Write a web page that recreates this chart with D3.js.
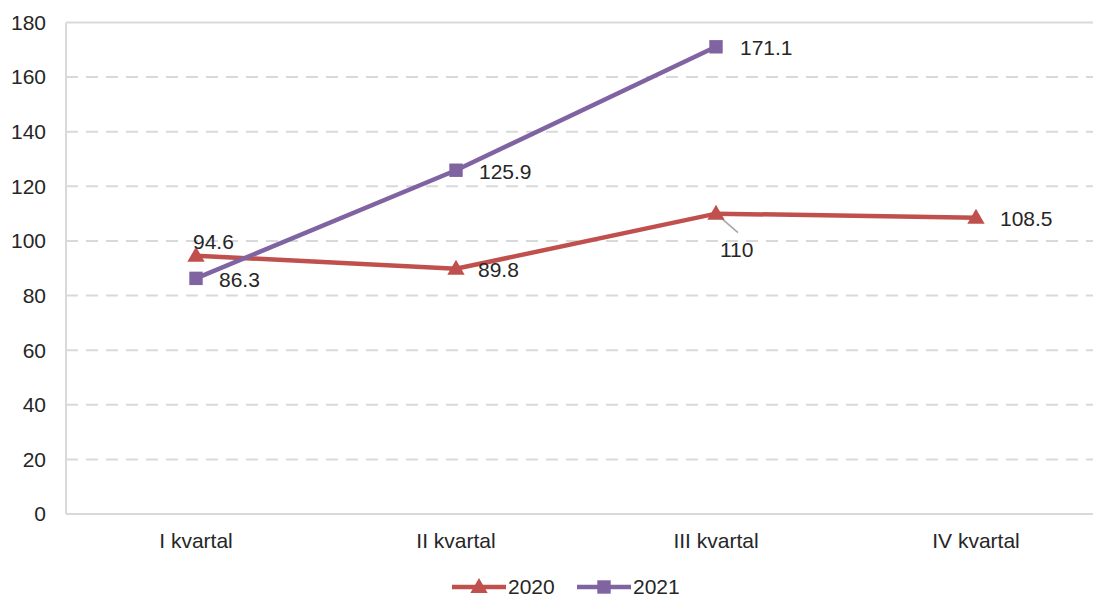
<!DOCTYPE html>
<html>
<head>
<meta charset="utf-8">
<script src="https://cdn.jsdelivr.net/npm/d3@7"></script>
<style>
  body { margin: 0; background: #fff; }
  text { font-family: "Liberation Sans", Arial, sans-serif; fill: #262626; }
</style>
</head>
<body>
<svg id="chart" width="1093" height="597"></svg>
<script>
var categories = ["I kvartal", "II kvartal", "III kvartal", "IV kvartal"];
var years = ["2020", "2021"];
var values2020 = [94.6, 89.8, 110, 108.5];
var values2021 = [86.3, 125.9, 171.1];
var yTicks = [0, 20, 40, 60, 80, 100, 120, 140, 160, 180];
var colors = { "2020": "#c0504d", "2021": "#8064a2" };

// label offsets relative to point (dx, dy)
var labelPos2020 = [[-3, -14], [22, 1], [4, 36], [24, 1]];
var labelPos2021 = [[23, 1], [23, 1], [24, 1]];

var fs = 21;

var svg = d3.select('#chart');
var x = d3.scaleBand().domain(categories).range([66, 1106]);
var y = d3.scaleLinear().domain([0, 180]).range([514, 22.5]);
var cx = function (d, i) { return x(categories[i]) + x.bandwidth() / 2; };

// grid
svg.append('g')
    .selectAll('line')
    .data(yTicks.filter(function (t) { return t > 0; }))
    .enter()
    .append('line')
    .attr('x1', 66).attr('x2', 1093)
    .attr('y1', function (d) { return y(d); })
    .attr('y2', function (d) { return y(d); })
    .attr('stroke', '#d9d9d9')
    .attr('stroke-width', 2)
    .attr('stroke-dasharray', function (d) { return d === 180 ? null : '12,8'; });

// axes
svg.append('line').attr('x1', 66).attr('x2', 66).attr('y1', y(180)).attr('y2', y(0))
    .attr('stroke', '#d9d9d9').attr('stroke-width', 2);
svg.append('line').attr('x1', 66).attr('x2', 1093).attr('y1', y(0)).attr('y2', y(0))
    .attr('stroke', '#d9d9d9').attr('stroke-width', 2);

svg.append('g')
    .selectAll('text')
    .data(yTicks)
    .enter()
    .append('text')
    .attr('x', 46)
    .attr('y', function (d) { return y(d); })
    .attr('dy', '0.35em')
    .attr('text-anchor', 'end')
    .attr('font-size', fs)
    .text(function (d) { return d; });

svg.append('g')
    .selectAll('text')
    .data(categories)
    .enter()
    .append('text')
    .attr('x', function (d) { return x(d) + x.bandwidth() / 2; })
    .attr('y', 548)
    .attr('text-anchor', 'middle')
    .attr('font-size', fs)
    .text(function (d) { return d; });

var line = d3.line()
    .x(function (d, i) { return cx(d, i); })
    .y(function (d) { return y(d); });

var triangle = d3.symbol().type(d3.symbolTriangle).size(130);
var square = d3.symbol().type(d3.symbolSquare).size(180);

// 2020
svg.append('path')
    .datum(values2020)
    .attr('d', line)
    .attr('fill', 'none')
    .attr('stroke', colors["2020"])
    .attr('stroke-width', 4.5);

// leader line for 110
svg.append('line')
    .attr('x1', cx(110, 2)).attr('y1', y(110))
    .attr('x2', cx(110, 2) + 22).attr('y2', y(110) + 19)
    .attr('stroke', '#a6a6a6').attr('stroke-width', 1.5);

svg.append('g')
    .selectAll('path')
    .data(values2020)
    .enter()
    .append('path')
    .attr('d', triangle)
    .attr('transform', function (d, i) { return 'translate(' + cx(d, i) + ',' + (y(d) + 1) + ')'; })
    .attr('fill', colors["2020"]);

// 2021
svg.append('path')
    .datum(values2021)
    .attr('d', line)
    .attr('fill', 'none')
    .attr('stroke', colors["2021"])
    .attr('stroke-width', 4.5);

svg.append('g')
    .selectAll('path')
    .data(values2021)
    .enter()
    .append('path')
    .attr('d', square)
    .attr('transform', function (d, i) { return 'translate(' + cx(d, i) + ',' + y(d) + ')'; })
    .attr('fill', colors["2021"]);

// data labels
svg.append('g')
    .selectAll('text')
    .data(values2020)
    .enter()
    .append('text')
    .attr('x', function (d, i) { return cx(d, i) + labelPos2020[i][0]; })
    .attr('y', function (d, i) { return y(d) + labelPos2020[i][1]; })
    .attr('dy', '0.35em')
    .attr('font-size', fs)
    .text(function (d) { return d; });

svg.append('g')
    .selectAll('text')
    .data(values2021)
    .enter()
    .append('text')
    .attr('x', function (d, i) { return cx(d, i) + labelPos2021[i][0]; })
    .attr('y', function (d, i) { return y(d) + labelPos2021[i][1]; })
    .attr('dy', '0.35em')
    .attr('font-size', fs)
    .text(function (d) { return d; });

// legend
var legend = svg.append('g')
    .selectAll('g')
    .data(years)
    .enter()
    .append('g')
    .attr('transform', function (d, i) { return 'translate(' + (452 + i * 125) + ',587)'; });

legend.append('line')
    .attr('x1', 0).attr('x2', 54)
    .attr('stroke', function (d) { return colors[d]; })
    .attr('stroke-width', 4.5);

legend.append('path')
    .attr('d', function (d) { return d === "2020" ? triangle() : square(); })
    .attr('transform', function (d) { return d === "2020" ? 'translate(27,1)' : 'translate(27,0)'; })
    .attr('fill', function (d) { return colors[d]; });

legend.append('text')
    .attr('x', 56)
    .attr('dy', '0.35em')
    .attr('font-size', fs)
    .text(function (d) { return d; });
</script>
</body>
</html>
